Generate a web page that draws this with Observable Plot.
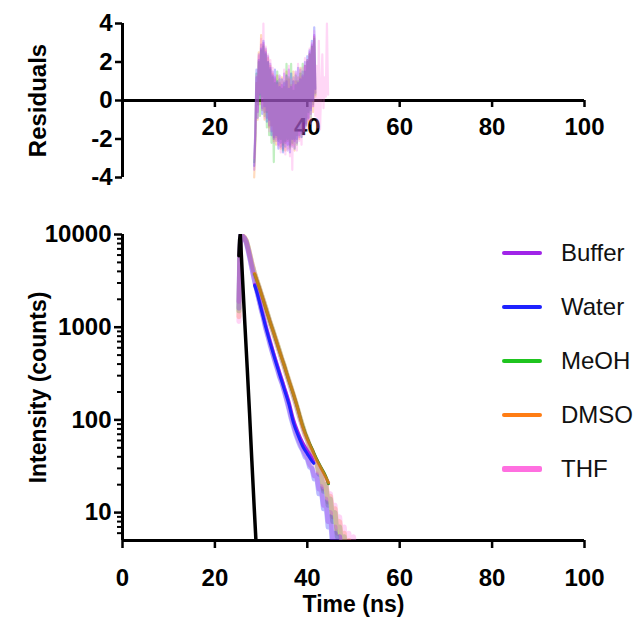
<!DOCTYPE html>
<html>
<head>
<meta charset="utf-8">
<script src="https://cdn.jsdelivr.net/npm/d3@7"></script>
<script src="https://cdn.jsdelivr.net/npm/@observablehq/plot@0.6"></script>
<style>
  html, body { margin: 0; padding: 0; background: #fff; }
  #wrap { position: relative; width: 639px; height: 617px; overflow: hidden; font-family: "Liberation Sans", Arial, Helvetica, sans-serif; }
  #topPanel { position: absolute; left: 0; top: 0; }
  #bottomPanel { position: absolute; left: 0; top: 200px; }
  #legend { position: absolute; left: 502px; top: 226px; display: flex; flex-direction: column; }
  .row { height: 54px; display: flex; align-items: center; }
  .sw { width: 40px; height: 4px; border-radius: 2px; margin-right: 19px; }
  .lab { font-size: 24px; color: #111; }
</style>
</head>
<body>
<div id="wrap">
  <div id="topPanel"></div>
  <div id="bottomPanel"></div>
  <div id="legend"></div>
</div>
<script>
// ---------------- DATA ----------------
const series = ["Buffer", "Water", "MeOH", "DMSO", "THF"];

// Residuals: sampled every 0.25 ns from 28.5 ns
const residStart = 28.5;
const residStep = 0.25;
const residBuffer = [-3.6,-1.8,1.2,-0.6,2.4,0.3,2.9,-0.4,3.0,-0.6,2.7,-0.9,2.3,-1.3,1.9,-1.6,1.5,-1.9,1.2,-2.1,0.9,-2.3,1.3,-2.4,0.8,-2.5,1.4,-2.2,1.0,-2.6,1.6,-2.3,0.7,-2.4,1.2,-2.1,1.5,-2.2,0.9,-1.9,1.6,-1.7,1.3,-1.6,1.8,-1.3,2.1,-1.0,2.5,-0.7,2.9,-0.3,3.4,0.4];
const residWater  = [-3.4,-1.5,1.6,-0.9,2.1,0.1,2.7,-0.7,3.1,-0.3,2.5,-1.1,2.0,-1.0,1.7,-1.8,1.3,-2.0,1.6,-1.8,1.0,-2.5,0.7,-2.2,1.1,-2.7,0.9,-2.4,1.3,-2.3,0.6,-2.7,1.4,-2.0,1.0,-2.5,0.8,-2.0,1.7,-1.8,1.1,-1.9,1.5,-1.4,2.0,-1.2,2.3,-0.9,2.6,-0.5,3.1,0.0,3.8,0.6];
const residMeOH   = [-3.2,-2.0,1.4,-0.2,2.0,-0.8,2.6,0.2,2.8,-0.8,2.4,-1.4,2.0,-1.8,1.6,-2.2,1.2,-3.2,0.9,-1.9,1.5,-2.1,1.1,-2.0,0.6,-2.6,1.0,-2.1,1.9,-2.0,1.2,-2.4,1.9,-2.2,0.5,-2.0,1.3,-2.3,1.0,-1.5,1.4,-1.9,1.9,-1.1,1.5,-1.3,2.0,-0.6,2.4,-0.9,2.8,-0.2,3.2,0.3];
const residDMSO   = [-4.0,-2.3,0.9,-1.0,2.5,-0.2,3.4,-0.5,2.9,-1.0,2.6,-0.6,2.2,-1.4,1.8,-1.3,1.4,-2.1,1.1,-2.3,1.3,-2.0,0.9,-2.5,1.2,-2.3,0.7,-2.6,1.5,-2.1,1.1,-2.5,0.8,-2.3,1.5,-2.6,1.0,-1.8,1.2,-2.0,1.7,-1.5,1.2,-1.6,1.8,-1.2,2.1,-1.1,2.4,-0.4,2.8,-0.6,3.3,0.2];
const residTHF    = [-3.0,-1.7,1.3,-0.5,2.3,0.4,3.2,-0.2,4.0,-0.9,2.8,-0.5,2.4,-1.6,2.1,-1.5,1.7,-2.2,1.3,-2.0,0.8,-2.4,1.2,-2.7,1.0,-2.2,1.6,-2.8,1.2,-2.5,1.8,-2.9,1.1,-3.6,0.8,-2.4,1.4,-2.6,1.9,-2.1,1.2,-2.3,1.7,-1.8,2.2,-1.5,2.0,-1.0,2.7,-1.2,3.0,-0.3,3.6,-0.8,1.8,-1.4,3.1,-1.5,0.5,2.4,-0.4,1.2,0.2,4.0,0.3];

// Decay histograms (counts)
const decayTime = [25.2,25.4,25.6,25.8,26.0,26.4,26.8,27.2,27.6,28.0,28.5,29.0,29.5,30.0,30.5,31.0,31.5,32.0,32.5,33.0,33.5,34.0,34.5,35.0,35.5,36.0,36.5,37.0,37.5,38.0,38.5,39.0,39.5,40.0,40.5,41.0,41.5,42.0,42.5,43.0,43.5,44.0,44.5,45.0,45.5,46.0,46.5,47.0,47.5,48.0,48.5,49.0,49.5,50.0,50.5,51.0];
const decayBuffer = [1900,6800,9900,9800,9500,9000,8100,6700,5400,4300,3350,2600,2050,1600,1290,1000,810,660,530,440,365,300,255,210,172,138,110,90,74,63,55,48,43,39,33,31,25,26,18,19,12,14,8,10,5,7,3.5,5.5,2.5,4,1,2,1,1,1,1];
const decayWater  = [1600,6200,9800,9700,9500,9100,8200,6800,5500,4400,3300,2550,2000,1560,1250,960,790,630,520,425,355,290,250,205,165,132,104,85,70,60,52,47,40,38,31,30,23,25,16,18,11,13,7,9,4,6,3,5.5,2,3,1,2,1,1,1,1];
const decayMeOH   = [1500,6000,9700,9900,9600,9200,8500,7200,5900,4800,3900,3250,2750,2300,1920,1600,1330,1100,930,780,650,545,450,380,315,262,220,182,152,124,102,85,70,61,51,45,37,35,26,27,17,20,12,14,8,10,5.5,7,4,5.5,2.5,4,2,3,1.5,2];
const decayDMSO   = [1300,5800,9600,9900,9700,9300,8600,7300,6000,4900,3950,3300,2800,2330,1950,1630,1350,1120,950,790,665,555,460,390,320,270,225,188,155,128,104,86,72,63,52,47,38,36,27,28,18,21,13,15,9,11,6,8,4.5,6,3,5,2.5,4,2,3];
const decayTHF    = [1150,5500,9400,9800,9700,9300,8500,7200,5950,4850,3900,3200,2700,2250,1880,1560,1300,1080,900,760,630,525,440,370,305,255,212,178,147,121,99,82,68,60,50,44,36,35,27,29,19,22,14,16,10,12,7,9,5,7,3.5,6,3,5.5,2.5,4];

// Fitted curves
const fitTimeFast = [28.6,29,30,31,32,33,34,35,36,37,38,39,40,41,41.4];
const fitBuffer   = [2900,2530,1640,1050,700,475,330,230,160,102,74,57,47,39,35];
const fitWater    = [2820,2450,1580,1000,660,447,309,214,148,93,68,52,43,36,34];
const fitTimeSlow = [28.6,29,30,31,32,33,34,35,36,37,38,39,40,41,42,43,44,44.6];
const fitMeOH     = [3750,3290,2330,1610,1115,790,548,388,268,189,129,86,63,49,38,30.5,24.5,20.5];
const fitDMSO     = [3800,3310,2340,1620,1120,794,550,389,269,190,129,85,62,48,37,30,24,21];
const fitTHF      = [3780,3300,2335,1615,1118,792,549,388,268,189,128,85,62,48,37,30,24,21];

// Instrument response function
const irfTime   = [25.2,25.35,25.5,26.0,26.5,27.0,27.5,28.0,28.5,28.8,29.1];
const irfCounts = [5900,8800,10000,3200,1050,360,118,36,11.5,6,3];

// Axis ticks and titles
const residTicks = [-4,-2,0,2,4];
const residXTicks = [20,40,60,80,100];
const timeTicks = [0,20,40,60,80,100];
const countTicks = [10,100,1000,10000];
const countMinorTicks = [6,7,8,9,20,30,40,50,60,70,80,90,200,300,400,500,600,700,800,900,2000,3000,4000,5000,6000,7000,8000,9000];
const residTitle = "Residuals";
const countTitle = "Intensity (counts)";
const timeTitle = "Time (ns)";

// ---------------- STYLE ----------------
const colorOf = {Buffer: "#a024e8", Water: "#1e22ff", MeOH: "#1fc41f", DMSO: "#ff7d14", THF: "#ff6fe0"};
const font = "'Liberation Sans', Arial, Helvetica, sans-serif";

const residSets = {Buffer: residBuffer, Water: residWater, MeOH: residMeOH, DMSO: residDMSO, THF: residTHF};
const decaySets = {Buffer: decayBuffer, Water: decayWater, MeOH: decayMeOH, DMSO: decayDMSO, THF: decayTHF};

const residRows = name => residSets[name].map((r, i) => ({t: residStart + i * residStep, r}));
const decayRows = name => decaySets[name].map((c, i) => ({t: decayTime[i], c}));
const fitRows = (times, vals) => vals.map((c, i) => ({t: times[i], c}));

// ---------------- TOP: RESIDUALS ----------------
const residOrder = ["DMSO", "MeOH", "Water", "THF", "Buffer"];
const topChart = Plot.plot({
  width: 639, height: 200,
  marginLeft: 122, marginRight: 55, marginTop: 23, marginBottom: 23,
  style: {fontFamily: font, fontWeight: "bold", fontSize: "24px", color: "#000", background: "transparent", overflow: "visible"},
  x: {domain: [0, 100]},
  y: {domain: [-4, 4]},
  marks: [
    Plot.axisY({ticks: residTicks, tickSize: 7, tickPadding: 3, strokeWidth: 2.5, tickFormat: d => String(d), label: null, fontSize: 24}),
    Plot.axisX({ticks: residXTicks, tickSize: 7, tickPadding: 10, strokeWidth: 2.5, tickFormat: d => String(d), label: null, fontSize: 24}),
    Plot.ruleX([0], {stroke: "#000", strokeWidth: 3}),
    Plot.ruleY([0], {stroke: "#000", strokeWidth: 3}),
    Plot.text([residTitle], {text: d => d, frameAnchor: "left", textAnchor: "middle", rotate: -90, dx: -84, fontSize: 24, fontWeight: "bold", lineAnchor: "middle"}),
    ...residOrder.map(name => Plot.line(residRows(name), {x: "t", y: "r", stroke: colorOf[name], strokeOpacity: 0.28, strokeWidth: 2.2}))
  ]
});
// move the time axis of the residual panel onto the zero line
{
  const sy = topChart.scale("y");
  const dy = sy.apply(0) - sy.apply(-4);
  topChart.querySelectorAll('[aria-label^="x-axis"]').forEach(g => {
    const t = g.getAttribute("transform") || "";
    g.setAttribute("transform", `translate(0,${dy}) ${t}`);
  });
}
document.getElementById("topPanel").appendChild(topChart);

// ---------------- BOTTOM: DECAYS ----------------
const dataOrder = ["DMSO", "MeOH", "Water", "Buffer", "THF"];
const bottomChart = Plot.plot({
  width: 639, height: 417,
  marginLeft: 122, marginRight: 55, marginTop: 34, marginBottom: 77,
  style: {fontFamily: font, fontWeight: "bold", fontSize: "24px", color: "#000", background: "transparent", overflow: "visible"},
  x: {domain: [0, 100]},
  y: {type: "log", domain: [5, 10000]},
  marks: [
    Plot.axisY({ticks: countTicks, tickSize: 8, tickPadding: 3, strokeWidth: 2.5, tickFormat: d => String(d), label: null, fontSize: 24}),
    Plot.axisY({ticks: countMinorTicks, tickSize: 5, strokeWidth: 2, tickFormat: () => "", label: null}),
    Plot.axisX({ticks: timeTicks, tickSize: 8, tickPadding: 20, strokeWidth: 2.5, tickFormat: d => String(d), label: null, fontSize: 24}),
    Plot.ruleX([0], {stroke: "#000", strokeWidth: 3}),
    Plot.ruleY([5], {stroke: "#000", strokeWidth: 3}),
    Plot.text([countTitle], {text: d => d, frameAnchor: "left", textAnchor: "middle", rotate: -90, dx: -84, fontSize: 23, fontWeight: "bold", lineAnchor: "middle"}),
    Plot.text([timeTitle], {text: d => d, frameAnchor: "bottom", textAnchor: "middle", dy: 64, fontSize: 23, fontWeight: "bold", lineAnchor: "middle"}),
    ...dataOrder.map(name => Plot.line(decayRows(name), {x: "t", y: "c", stroke: colorOf[name], strokeOpacity: 0.3, strokeWidth: 5, clip: true})),
    Plot.line(fitRows(fitTimeSlow, fitTHF), {x: "t", y: "c", stroke: colorOf.THF, strokeWidth: 3, curve: "monotone-x", clip: true}),
    Plot.line(fitRows(fitTimeFast, fitBuffer), {x: "t", y: "c", stroke: colorOf.Buffer, strokeWidth: 3, curve: "monotone-x", clip: true}),
    Plot.line(fitRows(fitTimeFast, fitWater), {x: "t", y: "c", stroke: colorOf.Water, strokeWidth: 3, curve: "monotone-x", clip: true}),
    Plot.line(fitRows(fitTimeSlow, fitMeOH), {x: "t", y: "c", stroke: "#208a20", strokeWidth: 3, curve: "monotone-x", clip: true}),
    Plot.line(fitRows(fitTimeSlow, fitDMSO), {x: "t", y: "c", stroke: colorOf.DMSO, strokeOpacity: 0.72, strokeWidth: 3, curve: "monotone-x", clip: true}),
    Plot.line(fitRows(irfTime, irfCounts), {x: "t", y: "c", stroke: "#000", strokeWidth: 3.5, clip: true})
  ]
});
document.getElementById("bottomPanel").appendChild(bottomChart);

// ---------------- LEGEND ----------------
const legend = document.getElementById("legend");
series.forEach(name => {
  const row = document.createElement("div");
  row.className = "row";
  const sw = document.createElement("div");
  sw.className = "sw";
  sw.style.background = colorOf[name];
  if (name === "THF") sw.style.height = "6px";
  const lab = document.createElement("span");
  lab.className = "lab";
  lab.textContent = name;
  row.appendChild(sw);
  row.appendChild(lab);
  legend.appendChild(row);
});
</script>
</body>
</html>
